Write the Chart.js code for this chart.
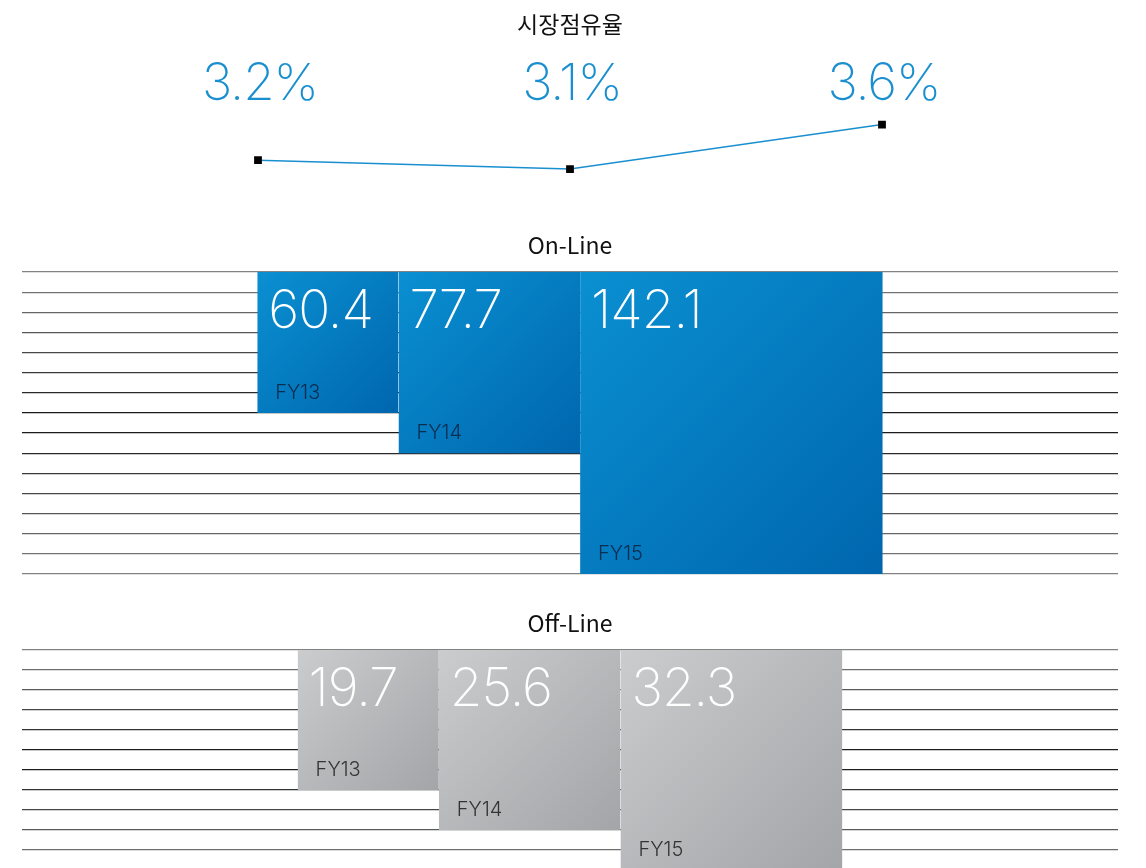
<!DOCTYPE html>
<html>
<head>
<meta charset="utf-8">
<script src="https://cdn.jsdelivr.net/npm/chart.js@4.4.1/dist/chart.umd.min.js"></script>
<style>
  html, body { margin: 0; padding: 0; background: #fff; overflow: hidden; }
  #wrap { position: relative; width: 1146px; height: 868px; }
  canvas { position: absolute; left: 0; }
</style>
</head>
<body>
<div id="wrap">
  <canvas id="share" width="1146" height="200" style="top:0"></canvas>
  <canvas id="online" width="1146" height="350" style="top:230px"></canvas>
  <canvas id="offline" width="1146" height="280" style="top:600px"></canvas>
</div>
<script>
const years = ['FY13', 'FY14', 'FY15']
const shareValues = [3.2, 3.1, 3.6]
const onlineValues = [60.4, 77.7, 142.1]
const offlineValues = [19.7, 25.6, 32.3]
// block side of each square, counted in grid rows
const onlineRows = [7, 9, 15]
const offlineRows = [7, 9, 11]

const BLUE = '#1a8fd0'
const NUM_FONT = '200 53px Inter'
const TITLE_FONT = { family: 'Noto Sans CJK KR', size: 23, weight: '400' }

// ---- market share line ----
const shareLabels = {
    id: 'shareLabels',
    afterDatasetsDraw(chart) {
        const ctx = chart.ctx
        const meta = chart.getDatasetMeta(0)
        ctx.save()
        ctx.font = '200 51px Inter'
        ctx.letterSpacing = '-1px'
        ctx.fillStyle = BLUE
        ctx.textAlign = 'center'
        ctx.textBaseline = 'alphabetic'
        meta.data.forEach((pt, i) => {
            ctx.fillText(shareValues[i].toFixed(1) + '%', pt.x + 2, 100)
        })
        ctx.restore()
    }
}

new Chart(document.getElementById('share'), {
    type: 'line',
    data: {
        labels: years,
        datasets: [{
            data: shareValues,
            borderColor: BLUE,
            borderWidth: 1.5,
            pointStyle: 'rect',
            pointRadius: 5.5,
            pointBackgroundColor: '#000',
            pointBorderColor: '#000',
            pointBorderWidth: 0,
            tension: 0,
        }]
    },
    options: {
        responsive: false,
        animation: false,
        layout: { padding: { left: 258, right: 264, bottom: 22 } },
        plugins: {
            legend: { display: false },
            tooltip: { enabled: false },
            title: {
                display: true,
                text: '시장점유율',
                color: '#111',
                font: TITLE_FONT,
                padding: { top: 10, bottom: 78 },
            },
        },
        scales: {
            x: { display: false, offset: false },
            y: { display: false, min: 3.0, max: 3.7 },
        },
    },
    plugins: [shareLabels],
})

// ---- block charts ----
const blockEdges = (rows) => {
    const total = rows.reduce((a, b) => a + b, 0)
    let left = -total / 2
    return rows.map(r => {
        const e = [left, left + r]
        left += r
        return e
    })
}

const lineShade = (i, count) => {
    // grid lines are darker in the middle of the stack
    const mid = (count - 1) / 2
    const t = Math.abs(i - mid) / mid
    const g = Math.round(20 + t * 110)
    return `rgb(${g},${g},${g})`
}

const makeBlockChart = (id, title, values, rows, maxRows, colors, labelColor, pad) => {
    const edges = blockEdges(rows)
    const datasets = rows.map((r, i) => ({
        data: [{ x: edges[i][0], y: r }, { x: edges[i][1], y: r }],
        fill: 'origin',
        borderWidth: 0,
        pointRadius: 0,
        backgroundColor: (c) => {
            const chart = c.chart
            if (!chart.chartArea) return colors[0]
            const xs = chart.scales.x, ys = chart.scales.y
            const x0 = xs.getPixelForValue(edges[i][0])
            const x1 = xs.getPixelForValue(edges[i][1])
            const y0 = ys.getPixelForValue(0)
            const y1 = ys.getPixelForValue(r)
            const grad = chart.ctx.createLinearGradient(x0, y0, x1, y1)
            grad.addColorStop(0, colors[0])
            grad.addColorStop(1, colors[1])
            return grad
        },
    }))

    const blockLabels = {
        id: 'blockLabels',
        afterDatasetsDraw(chart) {
            const ctx = chart.ctx
            const xs = chart.scales.x, ys = chart.scales.y
            ctx.save()
            rows.forEach((r, i) => {
                const x0 = xs.getPixelForValue(edges[i][0])
                const top = ys.getPixelForValue(0)
                const bottom = ys.getPixelForValue(r)
                ctx.textAlign = 'left'
                ctx.textBaseline = 'alphabetic'
                ctx.font = NUM_FONT
                ctx.letterSpacing = '-1px'
                ctx.fillStyle = '#fff'
                ctx.fillText(values[i].toFixed(1), x0 + 11, top + 56)
                ctx.font = '300 20px Inter'
                ctx.letterSpacing = '0px'
                ctx.fillStyle = labelColor
                ctx.fillText(years[i], x0 + 18, bottom - 14)
            })
            ctx.restore()
        }
    }

    return new Chart(document.getElementById(id), {
        type: 'line',
        data: { datasets },
        options: {
            responsive: false,
            animation: false,
            layout: { padding: { left: 22, right: 28, bottom: pad.bottom } },
            plugins: {
                legend: { display: false },
                tooltip: { enabled: false },
                title: {
                    display: true,
                    text: title,
                    color: '#111',
                    font: TITLE_FONT,
                    padding: { top: pad.top, bottom: pad.gap },
                },
            },
            scales: {
                x: { type: 'linear', display: false, min: -27.16, max: 27.16 },
                y: {
                    type: 'linear',
                    reverse: true,
                    min: 0,
                    max: maxRows,
                    border: { display: false },
                    ticks: { display: false, stepSize: 1 },
                    grid: {
                        drawTicks: false,
                        lineWidth: 1.2,
                        color: (c) => lineShade(c.index, maxRows + 1),
                    },
                },
            },
        },
        plugins: [blockLabels],
    })
}

makeBlockChart('online', 'On-Line', onlineValues, onlineRows, 15,
    ['#0a90d2', '#0066ae'], '#0b2d50', { top: 1, gap: 13.4, bottom: 6 })
makeBlockChart('offline', 'Off-Line', offlineValues, offlineRows, 11,
    ['#cbccce', '#a4a5a8'], '#333', { top: 9, gap: 13.4, bottom: 10 })
</script>
</body>
</html>
